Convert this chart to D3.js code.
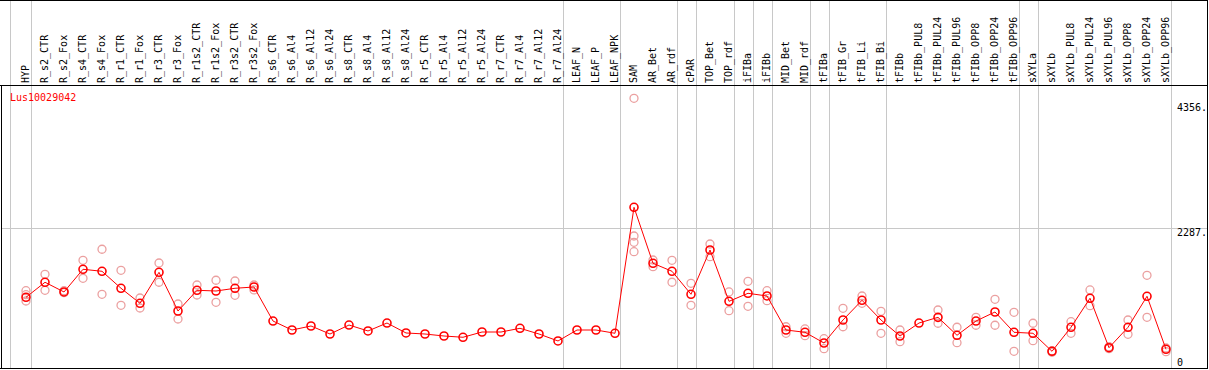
<!DOCTYPE html>
<html>
<head>
<meta charset="utf-8">
<script src="https://cdn.jsdelivr.net/npm/d3@7"></script>
<style>
  body { margin: 0; background: #fff; }
  svg { display: block; }
  text { font-family: "DejaVu Sans Mono", monospace; font-size: 10px; }
</style>
</head>
<body>
<div id="chart"></div>
<script>
const seriesName = "Lus10029042";

const categories = ["HYP", "R_s2_CTR", "R_s2_Fox", "R_s4_CTR", "R_s4_Fox", "R_r1_CTR", "R_r1_Fox",
  "R_r3_CTR", "R_r3_Fox", "R_r1s2_CTR", "R_r1s2_Fox", "R_r3s2_CTR", "R_r3s2_Fox",
  "R_s6_CTR", "R_s6_Al4", "R_s6_Al12", "R_s6_Al24", "R_s8_CTR", "R_s8_Al4", "R_s8_Al12", "R_s8_Al24",
  "R_r5_CTR", "R_r5_Al4", "R_r5_Al12", "R_r5_Al24", "R_r7_CTR", "R_r7_Al4", "R_r7_Al12", "R_r7_Al24",
  "LEAF_N", "LEAF_P", "LEAF_NPK", "SAM", "AR_Bet", "AR_rdf", "cPAR", "TOP_Bet", "TOP_rdf",
  "iFIBa", "iFIBb", "MID_Bet", "MID_rdf", "tFIBa", "tFIB_Gr", "tFIB_Li", "tFIB_Bi", "tFIBb",
  "tFIBb_PUL8", "tFIBb_PUL24", "tFIBb_PUL96", "tFIBb_OPP8", "tFIBb_OPP24", "tFIBb_OPP96",
  "sXYLa", "sXYLb", "sXYLb_PUL8", "sXYLb_PUL24", "sXYLb_PUL96", "sXYLb_OPP8", "sXYLb_OPP24", "sXYLb_OPP96"];

// last category of each group (grey separator after it)
const groupEnds = ["HYP", "R_r7_Al24", "LEAF_NPK", "AR_rdf", "cPAR", "TOP_rdf", "iFIBa", "iFIBb",
  "MID_rdf", "tFIBa", "tFIB_Bi", "tFIBb_OPP96", "sXYLa", "sXYLb_OPP96"];

const means = [1149, 1397, 1237, 1611, 1578, 1298, 1050, 1561, 923, 1265, 1253, 1298, 1319,
  758, 610, 676, 544, 692, 594, 725, 561, 544, 511, 490, 577, 577, 638, 544, 429,
  610, 610, 556, 2633, 1710, 1578, 1199, 1929, 1083, 1215, 1171, 610, 572, 396, 775, 1100, 775, 511,
  725, 819, 523, 758, 907, 572, 556, 259, 655, 1133, 318, 655, 1166, 292];

const replicates = [
  [1258, 1192, 1088], [1528, 1265], [1258, 1225], [1759, 1462], [1941, 1199], [1594, 1017],
  [1138, 973], [1715, 1397], [1039, 791], [1352, 1187], [1430, 1067], [1418, 1182], [1352, 1270],
  [], [], [], [], [], [], [], [], [], [], [], [], [], [], [], [],
  [], [], [], [4430, 2160, 2056, 1901], [1764, 1654], [1759, 1397], [1380, 1017], [2028, 1819],
  [1237, 928], [1413, 1001], [1258, 1093], [664, 556], [627, 516], [467, 302], [968, 664],
  [1171, 1050], [918, 556], [610, 417], [], [940, 721], [655, 401], [819, 688], [1116, 688],
  [902, 259], [721, 434], [269, 242], [747, 556], [1270, 1011], [335, 302], [775, 539],
  [1512, 819], [313, 252]];

const yTicks = [0, 2287, 4356];
const yTickLabels = ["0", "2287.", "4356."];

const width = 1209, height = 370;
const headerH = 85, bottom = 368.5;

const svg = d3.select("#chart").append("svg")
  .attr("width", width)
  .attr("height", height);

const x = d3.scalePoint()
  .domain(categories)
  .range([26, 1166]);

const y = d3.scaleLinear()
  .domain([0, 4356])
  .range([367, 102.8]);

// horizontal grid
svg.append("line")
  .attr("x1", 1).attr("x2", 1207)
  .attr("y1", Math.round(y(2287)) + 0.5).attr("y2", Math.round(y(2287)) + 0.5)
  .attr("stroke", "#c8c8c8");

// vertical group separators
const sepX = [x(categories[0]) - 16].concat(groupEnds.map(c => x(c) + 4.5));
svg.selectAll(".sep")
  .data(sepX)
  .enter()
  .append("line")
  .attr("x1", d => Math.round(d) + 0.5).attr("x2", d => Math.round(d) + 0.5)
  .attr("y1", 0).attr("y2", bottom)
  .attr("stroke", "#c8c8c8");

// frame
svg.append("line").attr("x1", 0).attr("x2", 1208).attr("y1", 0.5).attr("y2", 0.5).attr("stroke", "#000");
svg.append("line").attr("x1", 0).attr("x2", 1208).attr("y1", headerH + 0.5).attr("y2", headerH + 0.5).attr("stroke", "#000");
svg.append("line").attr("x1", 0).attr("x2", 1208).attr("y1", bottom).attr("y2", bottom).attr("stroke", "#000");
svg.append("line").attr("x1", 1.5).attr("x2", 1.5).attr("y1", headerH).attr("y2", bottom).attr("stroke", "#000");
svg.append("line").attr("x1", 1207.5).attr("x2", 1207.5).attr("y1", 0).attr("y2", bottom).attr("stroke", "#000");

// header labels
svg.selectAll(".cat")
  .data(categories)
  .enter()
  .append("text")
  .attr("transform", d => "translate(" + [x(d) + 3, 83] + ") rotate(-90)")
  .attr("fill", "#000")
  .text(d => d);

// y tick labels
svg.selectAll(".tick")
  .data(yTicks)
  .enter()
  .append("text")
  .attr("x", 1177)
  .attr("y", d => Math.min(y(d) + 8, 366))
  .attr("fill", "#000")
  .text((d, i) => yTickLabels[i]);

// series name
svg.append("text")
  .attr("x", 10)
  .attr("y", 100.5)
  .attr("fill", "#f00")
  .text(seriesName);

// replicate points
const reps = [];
categories.forEach((c, i) => replicates[i].forEach(v => reps.push({ c: c, v: v })));
svg.selectAll(".rep")
  .data(reps)
  .enter()
  .append("circle")
  .attr("cx", d => x(d.c))
  .attr("cy", d => y(d.v))
  .attr("r", 4)
  .attr("fill", "none")
  .attr("stroke", "#eba0a0")
  .attr("stroke-width", 1.3);

// mean line
svg.append("path")
  .attr("d", d3.line()
    .x((d, i) => x(categories[i]))
    .y(d => y(d))
    (means))
  .attr("fill", "none")
  .attr("stroke", "#f00")
  .attr("stroke-width", 1);

// mean points
svg.selectAll(".mean")
  .data(means)
  .enter()
  .append("circle")
  .attr("cx", (d, i) => x(categories[i]))
  .attr("cy", d => y(d))
  .attr("r", 4)
  .attr("fill", "none")
  .attr("stroke", "#f00")
  .attr("stroke-width", 1.6);
</script>
</body>
</html>
